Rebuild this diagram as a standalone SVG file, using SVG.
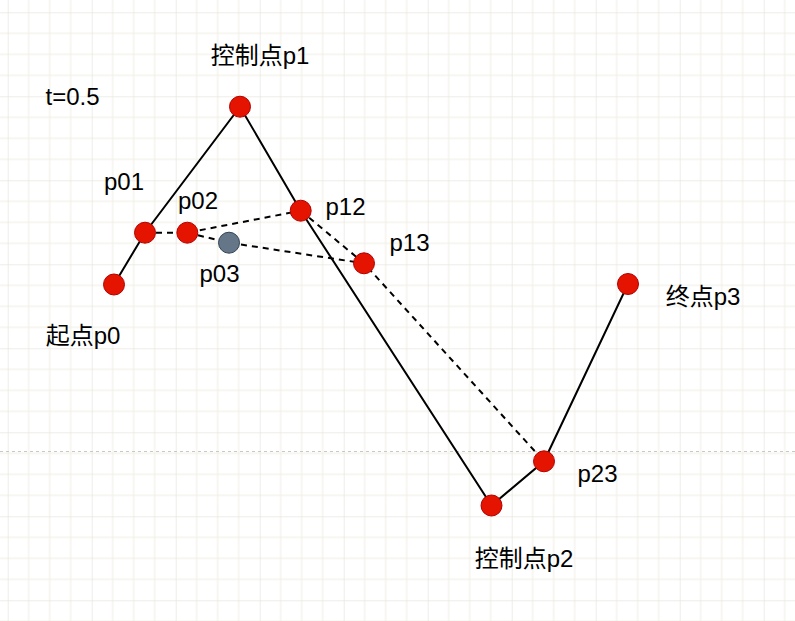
<svg xmlns="http://www.w3.org/2000/svg" width="795" height="621" viewBox="0 0 795 621">
<defs>
<pattern id="grid" patternUnits="userSpaceOnUse" x="7.7" y="12.3" width="84" height="84">
<path d="M21 0V84M42 0V84M63 0V84M0 21H84M0 42H84M0 63H84" stroke="#efede4" stroke-width="1" fill="none"/>
<path d="M0 0V84M0 0H84" stroke="#dedbcf" stroke-width="1" fill="none"/>
</pattern>
<style>
.solid{stroke:#000;stroke-width:2;fill:none}
.dash{stroke:#000;stroke-width:2;fill:none;stroke-dasharray:6 5}
.pt circle{fill:#e51400;stroke:#b20000;stroke-width:1}
.pt.gray circle{fill:#647687;stroke:#314354}
text{font-family:"Liberation Sans","Noto Sans CJK SC",sans-serif;font-size:24px;fill:#000;text-anchor:middle}
</style>
</defs>
<rect width="795" height="621" fill="#ffffff"/>
<rect width="795" height="621" fill="url(#grid)"/>
<line x1="0" y1="451.5" x2="795" y2="451.5" stroke="#c8c8c8" stroke-width="1" stroke-dasharray="3 3"/>
<g id="connectors">
<polyline class="solid" points="114,284.5 145,232.7 240,106.7 300.7,210.7 491.5,505.5 544,461.3 628,284"/>
<polyline class="dash" points="145,232.7 187.3,232.7 300.7,210.7"/>
<polyline class="dash" points="187.3,232.7 229,242.7 364,263.3"/>
<polyline class="dash" points="300.7,210.7 364,263.3 544,461.3"/>
</g>
<g id="p0" class="pt"><circle cx="114" cy="284.5" r="10.5"/><text x="83" y="344">起点p0</text></g>
<g id="p1" class="pt"><circle cx="240" cy="106.7" r="10.5"/><text x="260" y="64">控制点p1</text></g>
<g id="p2" class="pt"><circle cx="491.5" cy="505.5" r="10.5"/><text x="524" y="567">控制点p2</text></g>
<g id="p3" class="pt"><circle cx="628" cy="284" r="10.5"/><text x="703" y="305">终点p3</text></g>
<g id="p01" class="pt"><circle cx="145" cy="232.7" r="10.5"/><text x="124" y="190">p01</text></g>
<g id="p02" class="pt"><circle cx="187.3" cy="232.7" r="10.5"/><text x="198" y="209">p02</text></g>
<g id="p12" class="pt"><circle cx="300.7" cy="210.7" r="10.5"/><text x="345.5" y="215">p12</text></g>
<g id="p13" class="pt"><circle cx="364" cy="263.3" r="10.5"/><text x="409.5" y="251">p13</text></g>
<g id="p23" class="pt"><circle cx="544" cy="461.3" r="10.5"/><text x="597.5" y="482">p23</text></g>
<g id="p03" class="pt gray"><circle cx="229" cy="242.7" r="10.5"/><text x="219.5" y="281.5">p03</text></g>
<g id="label-t"><text x="72.5" y="105">t=0.5</text></g>
</svg>
